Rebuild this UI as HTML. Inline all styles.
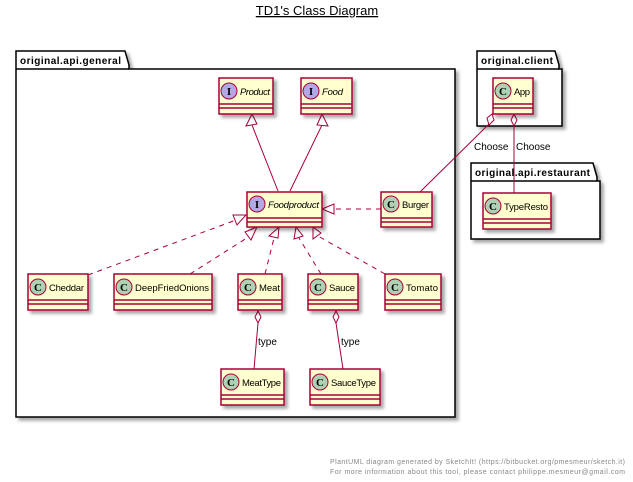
<!DOCTYPE html>
<html><head><meta charset="utf-8"><style>html,body{margin:0;padding:0;background:#fff}svg{display:block}</style></head><body>
<svg width="633" height="482" viewBox="0 0 633 482" xmlns="http://www.w3.org/2000/svg" font-family="Liberation Sans, sans-serif">
<defs>
<filter id="sh" x="-10%" y="-10%" width="130%" height="140%"><feDropShadow dx="3" dy="3" stdDeviation="1.5" flood-color="#000" flood-opacity="0.35"/></filter>
</defs>
<text x="317" y="15" font-size="13" text-anchor="middle" text-decoration="underline">TD1's Class Diagram</text>

<g filter="url(#sh)" fill="#fff" stroke="#000" stroke-width="1.5">
<path d="M16 69 V51 H125 L129 65 V69 H455 V417 H16 Z"/>
<path d="M477 69 V51 H555 L559 65 V69 H562 V126 H477 Z"/>
<path d="M471 181 V163 H593 L597 177 V181 H600 V239 H471 Z"/>
</g>
<g stroke="#000" stroke-width="1.5" fill="none"><line x1="16" y1="69" x2="129" y2="69"/><line x1="477" y1="69" x2="559" y2="69"/><line x1="471" y1="181" x2="597" y2="181"/></g>
<g font-size="10" font-weight="bold">
<text x="20" y="64" textLength="101">original.api.general</text>
<text x="481" y="64" textLength="72">original.client</text>
<text x="475" y="176" textLength="115">original.api.restaurant</text>
</g>

<g stroke="#A80036" stroke-width="1" fill="none">
<line x1="252" y1="125" x2="278" y2="191"/>
<line x1="322" y1="125" x2="290" y2="191"/>
<g stroke-dasharray="5,5">
<line x1="381" y1="209" x2="334" y2="209"/>
<line x1="88" y1="275" x2="236" y2="220"/>
<line x1="190" y1="274" x2="250" y2="236"/>
<line x1="265" y1="274" x2="274" y2="238"/>
<line x1="321" y1="274" x2="299" y2="238"/>
<line x1="385" y1="274" x2="318" y2="236"/>
</g>
<line x1="258" y1="323" x2="254" y2="369"/>
<line x1="336" y1="323" x2="343" y2="369"/>
<line x1="489" y1="124" x2="420" y2="192"/>
<line x1="514" y1="126" x2="514" y2="193"/>
</g>
<g stroke="#A80036" stroke-width="1" fill="#fff">
<polygon points="252,114 246,126 257,124"/>
<polygon points="322,114 317,125 328,126"/>
<polygon points="322,209 334,204 334,214"/>
<polygon points="246,215 233,215 237,225"/>
<polygon points="257,227 245,232 251,240"/>
<polygon points="279,227 269,236 278,238"/>
<polygon points="296,227 294,239 303,236"/>
<polygon points="313,227 313,239 321,233"/>
<polygon points="258,311 255,317 258,323 261,317"/>
<polygon points="336,311 333,317 336,323 339,317"/>
<polygon points="492,114 487,118 489,125 494,120"/>
<polygon points="514,114 511,120 514,126 517,120"/>
</g>
<g font-size="10" fill="#000">
<text x="258" y="345">type</text>
<text x="341" y="345">type</text>
<text x="474" y="150">Choose</text>
<text x="516" y="150">Choose</text>
</g>

<g filter="url(#sh)" fill="#FEFECE" stroke="#A80036" stroke-width="1.5">
<rect x="219" y="78" width="54" height="36"/>
<rect x="301" y="78" width="51" height="36"/>
<rect x="247" y="192" width="75" height="35"/>
<rect x="381" y="192" width="51" height="35"/>
<rect x="28" y="274" width="60" height="36"/>
<rect x="114" y="274" width="98" height="36"/>
<rect x="238" y="274" width="44" height="36"/>
<rect x="308" y="274" width="50" height="36"/>
<rect x="385" y="274" width="56" height="36"/>
<rect x="221" y="369" width="63" height="36"/>
<rect x="310" y="369" width="70" height="36"/>
<rect x="493" y="78" width="40" height="36"/>
<rect x="483" y="193" width="68" height="36"/>
</g>
<g stroke="#A80036" stroke-width="1.5">
<path d="M219 104H273M219 108H273M301 104H352M301 108H352M247 218H322M247 222H322M381 218H432M381 222H432M28 300H88M28 304H88M114 300H212M114 304H212M238 300H282M238 304H282M308 300H358M308 304H358M385 300H441M385 304H441M221 395H284M221 399H284M310 395H380M310 399H380M493 104H533M493 108H533M483 219H551M483 223H551"/>
</g>
<g stroke="#A80036" stroke-width="1">
<circle cx="229" cy="91" r="8" fill="#B4A7E5"/>
<circle cx="311" cy="91" r="8" fill="#B4A7E5"/>
<circle cx="257" cy="204" r="8" fill="#B4A7E5"/>
<circle cx="391" cy="204" r="8" fill="#ADD1B2"/>
<circle cx="38" cy="287" r="8" fill="#ADD1B2"/>
<circle cx="124" cy="287" r="8" fill="#ADD1B2"/>
<circle cx="248" cy="287" r="8" fill="#ADD1B2"/>
<circle cx="318" cy="287" r="8" fill="#ADD1B2"/>
<circle cx="395" cy="287" r="8" fill="#ADD1B2"/>
<circle cx="231" cy="382" r="8" fill="#ADD1B2"/>
<circle cx="320" cy="382" r="8" fill="#ADD1B2"/>
<circle cx="503" cy="91" r="8" fill="#ADD1B2"/>
<circle cx="493" cy="206" r="8" fill="#ADD1B2"/>
</g>
<g font-size="11" font-weight="bold" text-anchor="middle" font-family="Liberation Serif, serif">
<text x="229" y="95">I</text><text x="311" y="95">I</text><text x="257" y="208">I</text>
<text x="391" y="208">C</text><text x="38" y="291">C</text><text x="124" y="291">C</text><text x="248" y="291">C</text><text x="318" y="291">C</text><text x="395" y="291">C</text><text x="231" y="386">C</text><text x="320" y="386">C</text><text x="503" y="95">C</text><text x="493" y="210">C</text>
</g>
<g font-size="9.5" fill="#000">
<text x="240" y="95" font-style="italic" textLength="30">Product</text>
<text x="322" y="95" font-style="italic" textLength="21">Food</text>
<text x="268" y="208" font-style="italic" textLength="51">Foodproduct</text>
<text x="402" y="208" textLength="27">Burger</text>
<text x="49" y="291" textLength="35">Cheddar</text>
<text x="135" y="291" textLength="74">DeepFriedOnions</text>
<text x="259" y="291" textLength="21">Meat</text>
<text x="329" y="291" textLength="26">Sauce</text>
<text x="406" y="291" textLength="32">Tomato</text>
<text x="242" y="386" textLength="39">MeatType</text>
<text x="331" y="386" textLength="45">SauceType</text>
<text x="514" y="95" textLength="16">App</text>
<text x="504" y="210" textLength="44">TypeResto</text>
</g>
<g font-size="7" fill="#888" text-anchor="end">
<text x="625" y="464" textLength="295">PlantUML diagram generated by SketchIt! (https://bitbucket.org/pmesmeur/sketch.it)</text>
<text x="625" y="474" textLength="295">For more information about this tool, please contact philippe.mesmeur@gmail.com</text>
</g>
</svg>
</body></html>
